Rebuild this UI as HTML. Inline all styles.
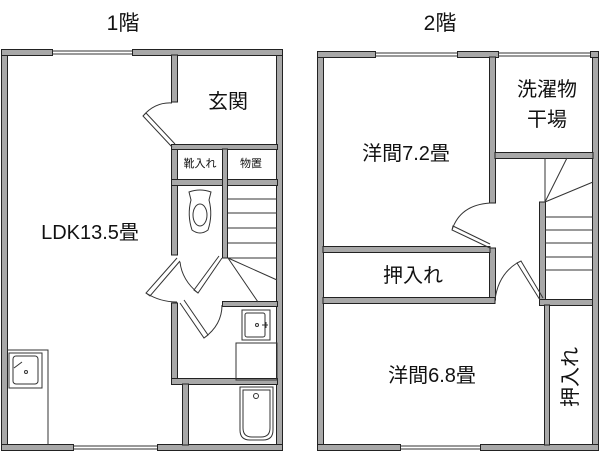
<!DOCTYPE html>
<html><head><meta charset="utf-8"><style>
html,body{margin:0;padding:0;background:#fff;}
svg{display:block}
text{font-family:"Liberation Sans","Noto Sans CJK JP",sans-serif;fill:#111}
</style></head><body>
<svg width="600" height="451" viewBox="0 0 600 451" xmlns="http://www.w3.org/2000/svg">
<g fill="#a8a8a8" stroke="#222" stroke-width="1">
<!-- 1F outer -->
<rect x="1.5" y="49.5" width="6" height="401"/>
<rect x="276.5" y="49.5" width="6" height="401"/>
<rect x="1.5" y="49.5" width="51" height="6"/>
<rect x="132.5" y="49.5" width="150" height="6"/>
<rect x="1.5" y="444.5" width="72" height="6"/>
<rect x="157.5" y="444.5" width="125" height="6"/>
<!-- 1F inner -->
<rect x="171.5" y="55" width="6" height="47"/>
<rect x="171.5" y="147" width="6" height="108"/>
<rect x="171.5" y="303" width="6" height="80"/>
<rect x="171.5" y="144.5" width="106" height="5"/>
<rect x="171.5" y="179.5" width="106" height="6"/>
<rect x="222.5" y="149" width="5" height="109"/>
<rect x="222.5" y="301.5" width="55" height="5"/>
<rect x="171.5" y="378.5" width="106" height="6"/>
<rect x="182.5" y="384" width="6" height="61"/>
<!-- 2F outer -->
<rect x="317.5" y="51.5" width="6" height="399"/>
<rect x="592.5" y="51.5" width="6" height="399"/>
<rect x="317.5" y="51.5" width="58" height="6"/>
<rect x="457.5" y="51.5" width="41" height="6"/>
<rect x="590.5" y="51.5" width="8" height="6"/>
<rect x="317.5" y="444.5" width="83" height="6"/>
<rect x="480.5" y="444.5" width="118" height="6"/>
<!-- 2F inner -->
<rect x="489.5" y="57" width="6" height="146"/>
<rect x="489.5" y="248" width="6" height="52"/>
<rect x="495" y="152.5" width="98" height="6"/>
<rect x="323" y="246.5" width="167" height="6"/>
<rect x="323" y="297.5" width="172" height="6"/>
<rect x="539.5" y="202" width="6" height="98"/>
<rect x="539.5" y="299.5" width="53" height="6"/>
<rect x="544.5" y="305" width="5" height="140"/>
</g>
<g fill="none" stroke="#333" stroke-width="1">
<!-- windows -->
<path d="M52 51H132M52 54H132M73 446H157M73 449H157M375 53H457M375 56H457M498 53H590M498 56H590M400 446H480M400 449H480"/>
<!-- stairs 1F -->
<path d="M228 199H277M228 213H277M228 228H277M228 243H277M228 258H277M228 258L277 280M228 258L258 302"/>
<!-- toilet -->
<path d="M189 192Q200 188 211 192L209 200Q213 215 208 230Q200 236 192 230Q187 215 191 200Z"/>
<ellipse cx="200" cy="215" rx="7" ry="11"/>
<!-- doors 1F -->
<path d="M172 147L143 116L146 113L175 144M143 116Q155 102 172 103"/>
<path d="M177 258L146 293L150 296L180 261M146 293Q160 302 177 302"/>
<path d="M222 258L198 293L194 290L219 256M198 293Q182 280 180 262"/>
<path d="M180 303L204 338L208 335L184 300M204 338Q222 325 222 305"/>
<!-- sink washroom -->
<rect x="242" y="310" width="28" height="30"/>
<rect x="245" y="313" width="20" height="24" rx="2"/>
<circle cx="257" cy="325" r="1.5"/>
<path d="M262 325H268M266 322V328"/>
<rect x="236" y="343" width="41" height="37"/>
<!-- bath -->
<path d="M240 387H273V430Q273 440 263 440H250Q240 440 240 430Z"/>
<path d="M243 390H270V428Q270 437 261 437H252Q243 437 243 428Z"/>
<circle cx="256" cy="396" r="2.5"/>
<!-- kitchen -->
<path d="M7 350H48V445"/>
<rect x="9" y="353" width="33" height="35"/>
<rect x="13" y="356" width="25" height="28" rx="3"/>
<circle cx="26" cy="372" r="1.5"/>
<path d="M14 368L22 362"/>
<!-- stairs 2F -->
<path d="M545 217H593M545 230H593M545 243H593M545 257H593M545 270H593M545 158V202M545 202L567 158M545 202L593 182"/>
<!-- doors 2F -->
<path d="M490 248L452 230L453 226L490 244M452 230Q460 205 490 203"/>
<path d="M540 300L517 263L521 261L543 298M517 263Q498 275 495 300"/>
</g>
<text x="123" y="30" font-size="21" text-anchor="middle">1階</text>
<text x="440" y="30" font-size="21" text-anchor="middle">2階</text>
<text x="90" y="239" font-size="20" text-anchor="middle">LDK13.5畳</text>
<text x="228" y="108" font-size="20" text-anchor="middle">玄関</text>
<text x="200" y="167" font-size="11" text-anchor="middle">靴入れ</text>
<text x="251" y="167" font-size="11" text-anchor="middle">物置</text>
<text x="547" y="96" font-size="20" text-anchor="middle">洗濯物</text>
<text x="547" y="126" font-size="20" text-anchor="middle">干場</text>
<text x="406" y="160" font-size="20" text-anchor="middle">洋間7.2畳</text>
<text x="413" y="282" font-size="20" text-anchor="middle">押入れ</text>
<text x="432" y="382" font-size="20" text-anchor="middle">洋間6.8畳</text>
<text x="0" y="0" font-size="20" text-anchor="middle" transform="translate(577,377) rotate(-90)">押入れ</text>
</svg>
</body></html>
